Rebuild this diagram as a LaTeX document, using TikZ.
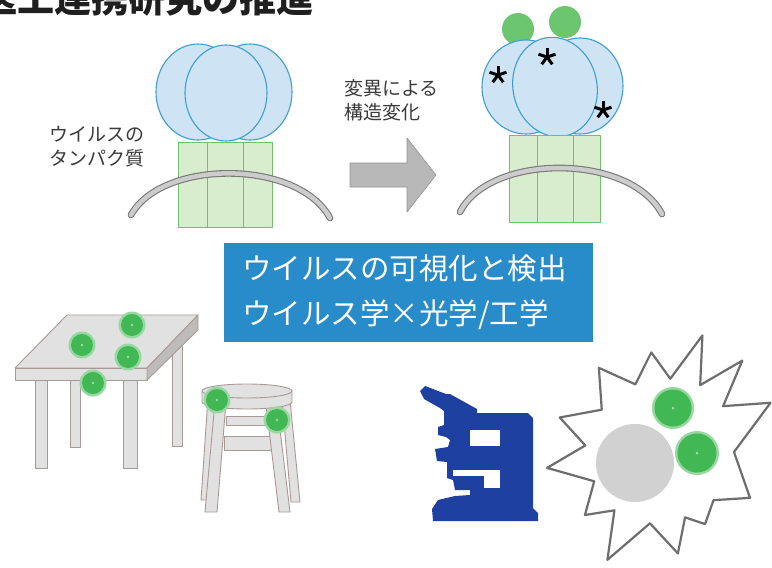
\documentclass[tikz,border=0pt]{standalone}
\usepackage{fontspec}
\setmainfont{Noto Sans CJK JP}
\usetikzlibrary{positioning}

\definecolor{lobe}{RGB}{206,228,244}
\definecolor{lobeline}{RGB}{62,158,210}
\definecolor{colfill}{RGB}{216,237,206}
\definecolor{colline}{RGB}{112,192,112}
\definecolor{memfill}{RGB}{204,204,204}
\definecolor{memline}{RGB}{120,120,120}
\definecolor{vgreen}{RGB}{66,184,84}
\definecolor{lgreen}{RGB}{108,198,112}
\definecolor{boxblue}{RGB}{40,140,202}
\definecolor{furnfill}{RGB}{226,225,225}
\definecolor{furnside}{RGB}{190,187,187}
\definecolor{furnline}{RGB}{168,152,150}
\definecolor{micblue}{RGB}{30,64,160}
\definecolor{txtgray}{RGB}{58,58,58}
\definecolor{arrowgray}{RGB}{184,184,184}

\begin{document}
\begin{tikzpicture}[x=1pt, y=-1pt, line join=round,
  prot/.style={fill=lobe, draw=lobeline, line width=1.1pt},
  col/.style={fill=colfill, draw=colline, line width=1pt},
  mem/.style={draw=memline, double=memfill, double distance=4.5pt, line width=1.1pt, line cap=round},
  furn/.style={fill=furnfill, draw=furnline, line width=0.9pt},
  lbl/.style={text=txtgray, font=\fontsize{19}{24}\selectfont, align=left, inner sep=0pt}]
  \useasboundingbox (0,0) rectangle (772,568);
  \clip (0,0) rectangle (772,568);
  \fill[white] (0,0) rectangle (772,568);

  \node[anchor=base west, inner sep=0pt, text=black!88, font=\fontsize{37}{37}\selectfont\bfseries] (title) at (-20,12) {医工連携研究の推進};

  % protein before mutation
  \draw[prot] (198,92) ellipse (42 and 48);
  \draw[prot] (250,92) ellipse (42 and 48);
  \draw[prot] (226,93) ellipse (41 and 48);
  \draw[col] (178,142) rectangle (272,227);
  \draw[colline] (207,142) -- (207,227) (243,142) -- (243,227);
  \draw[mem] (131,215) .. controls (162,159) and (298,159) .. (330,218);
  \node[lbl, anchor=north west] (protlabel) at (49,126) {ウイルスの\\タンパク質};

  \fill[arrowgray, draw=arrowgray!80!black, line width=0.6pt] (350,163) -- (407,163) -- (407,138) -- (436,175) -- (407,212) -- (407,187) -- (350,187) -- cycle;
  \node[lbl, anchor=north west] (mutlabel) at (344,79) {変異による\\構造変化};

  % protein after mutation
  \fill[lgreen] (518,29) circle (16) (565,22) circle (16);
  \draw[prot] (526,87) ellipse (44 and 47);
  \draw[prot] (580,86) ellipse (43 and 48);
  \draw[prot, rotate around={12:(555,87)}] (555,87) ellipse (42 and 50);
  \foreach \x/\y in {498/75, 547/57, 603/110}
    \foreach \a in {-90,-18,54,126,198}
      \draw[line width=3pt] (\x,\y) -- ++(\a:9);
  \draw[col] (509,135) rectangle (600,222);
  \draw[colline] (537,135) -- (537,222) (573,135) -- (573,222);
  \draw[mem] (460,212) .. controls (490,153) and (630,153) .. (662,214);

  \node[fill=boxblue, text=white, font=\fontsize{29.5}{45}\selectfont, align=left,
        text width=333pt, inner xsep=18pt, minimum height=99pt] (field) at (408.5,292.5)
        {ウイルスの可視化と検出\\ウイルス学×光学/工学};

  % table
  \draw[furn] (35,380) rectangle (47,468);
  \draw[furn] (70,380) rectangle (80,447);
  \draw[furn] (123,380) rectangle (137,468);
  \draw[furn] (172,340) rectangle (182,446);
  \draw[furn] (67,315) -- (198,315) -- (147,368) -- (15,368) -- cycle;
  \draw[furn] (15,368) rectangle (147,380);
  \draw[furn, fill=furnside] (147,368) -- (198,315) -- (198,330) -- (147,380) -- cycle;

  % stool
  \draw[furn] (208,398) -- (216,398) -- (210,500) -- (201,500) -- cycle;
  \draw[furn] (282,400) -- (290,400) -- (300,502) -- (291,502) -- cycle;
  \draw[furn] (226,416) rectangle (268,425);
  \draw[furn] (224,436) rectangle (272,450);
  \draw[furn] (215,402) -- (226,402) -- (217,512) -- (205,512) -- cycle;
  \draw[furn] (266,405) -- (277,405) -- (290,512) -- (279,512) -- cycle;
  \draw[furn] (202,391) -- (202,402) arc[start angle=180, end angle=0, x radius=45, y radius=7] -- (292,391) -- cycle;
  \draw[furn] (247,391) ellipse (45 and 7);

  \foreach \x/\y in {132/325, 82/345, 128/357, 93/383, 217/400, 277/420} {
    \fill[vgreen!55!white] (\x,\y) circle (13.5);
    \fill[vgreen] (\x,\y) circle (11);
    \fill[vgreen!50!white] (\x,\y) circle (1.3);
  }

  % microscope
  \fill[micblue] (420,391) -- (425,386) -- (446,394) -- (450,394) -- (477,409) -- (477,413)
    -- (528,413) -- (533,418) -- (533,508) -- (538,513) -- (538,521) -- (433,521) -- (432,509)
    -- (438,500) -- (455,496) -- (470,495) -- (470,490) -- (455,490) -- (453,480) -- (447,478)
    -- (447,462) -- (437,461) -- (435,449) -- (448,447) -- (450,440) -- (446,437) -- (438,435)
    -- (438,427) -- (444,425) -- (444,411) -- (440,408) -- (424,399) -- cycle;
  \fill[white] (470,430) rectangle (500,446);
  \fill[white] (453,470) rectangle (500,476);
  \fill[white] (484,476) rectangle (500,488);

  % detection burst
  \begin{scope}[shift={(660,452)}]
    \draw[fill=white, draw=black!57, line width=2.2pt]
      (172:114) -- (185:75) -- (199:106) -- (216:72) -- (234:104) -- (250:72) -- (265:100)
      -- (278:74) -- (290:124) -- (301:78) -- (312:123) -- (324:78) -- (336:121) -- (0:74)
      -- (27:101) -- (42:72) -- (58:85) -- (69:70) -- (80:103) -- (98:72) -- (116:120)
      -- (128:74) -- (140:98) -- (156:72) -- cycle;
    \fill[black!18] (-25,11) circle (39);
    \foreach \x/\y/\r in {13/-44/21, 37/1/22} {
      \fill[vgreen!55!white] (\x,\y) circle (\r);
      \fill[vgreen] (\x,\y) circle (\r-2.5);
      \fill[vgreen!50!white] (\x,\y) circle (1.5);
    }
  \end{scope}
\end{tikzpicture}
\end{document}
